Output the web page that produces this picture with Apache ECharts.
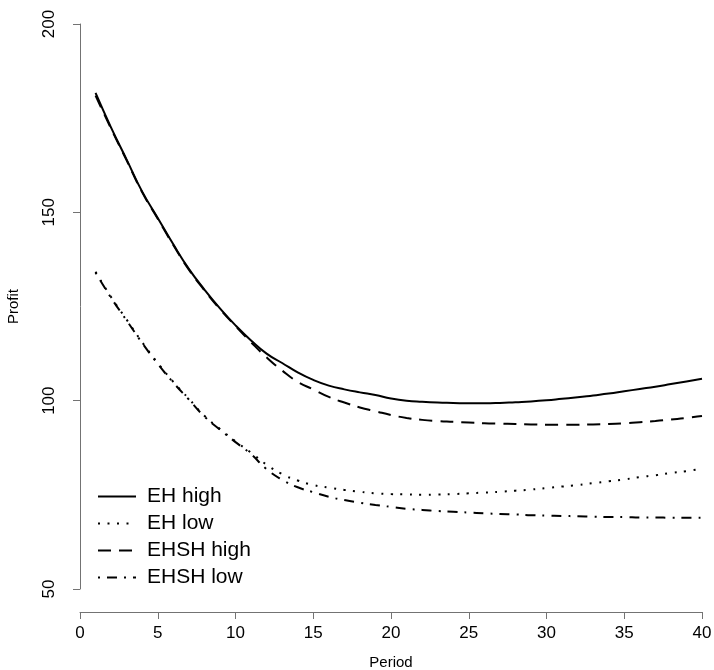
<!DOCTYPE html>
<html>
<head>
<meta charset="utf-8">
<script src="https://cdn.jsdelivr.net/npm/echarts@6/dist/echarts.min.js"></script>
<style>
	html, body { margin: 0; padding: 0; background: #fff; }
	#chart { width: 714px; height: 670px; }
</style>
</head>
<body>
<div id="chart"></div>
<script>
//////////// 데이터 ////////////
var periods = [];
for (var p = 1; p <= 40; p++) periods.push(p);

var xTicks = [0, 5, 10, 15, 20, 25, 30, 35, 40];
var yTicks = [50, 100, 150, 200];

var ehHigh = [181.7, 172.5, 164, 155.5, 148.5, 141.5, 135, 129.5, 124.5, 120,
	116, 112.5, 110, 107.5, 105.5, 104, 103, 102.2, 101.5, 100.6,
	100, 99.7, 99.5, 99.4, 99.3, 99.3, 99.4, 99.6, 99.8, 100.1,
	100.5, 100.9, 101.4, 101.9, 102.5, 103.1, 103.7, 104.4, 105.1, 105.8];

var ehLow = [134.2, 127.5, 121.5, 115.5, 110, 105, 100.5, 96, 92.5, 89.2,
	86.2, 83, 80.5, 78.8, 77.6, 76.9, 76.3, 75.8, 75.4, 75.2,
	75.1, 75.0, 75.1, 75.2, 75.4, 75.6, 75.8, 76.1, 76.4, 76.8,
	77.2, 77.6, 78.1, 78.6, 79.1, 79.7, 80.2, 80.8, 81.3, 81.9];

var ehshHigh = [181, 172.2, 163.8, 155.3, 148.3, 141.3, 134.8, 129.3, 124.3, 119.8,
	115.5, 111.5, 108, 105, 103, 101, 99.5, 98.2, 97.2, 96.2,
	95.4, 94.9, 94.6, 94.4, 94.2, 94.0, 93.9, 93.8, 93.7, 93.6,
	93.6, 93.6, 93.7, 93.8, 94.0, 94.3, 94.6, 95.0, 95.4, 95.9];

var ehshLow = [134, 127.3, 121.3, 115.3, 109.8, 104.8, 100.3, 95.8, 92.3, 89,
	85.8, 81.8, 79, 77, 75.7, 74.5, 73.6, 72.9, 72.3, 71.8,
	71.3, 71.0, 70.7, 70.5, 70.3, 70.1, 69.9, 69.8, 69.6, 69.5,
	69.4, 69.3, 69.2, 69.1, 69.1, 69.0, 69.0, 68.9, 68.9, 68.9];

var seriesNames = ['EH high', 'EH low', 'EHSH high', 'EHSH low'];

//////////// 차트 ////////////
function pairs(ys) {
	return periods.map(function(x, i) { return [x, ys[i]]; });
}

function makeLine(name, ys, dash) {
	return {
		name: name,
		type: 'line',
		data: pairs(ys),
		symbol: 'none',
		smooth: true,
		lineStyle: { color: '#000', width: 2, type: dash, cap: 'butt' },
		itemStyle: { color: '#000' }
	};
}

var font = "'Liberation Sans', Arial, Helvetica, sans-serif";
var axisGray = '#737373';

var chart = echarts.init(document.getElementById('chart'));
var option = {
	animation: false,
	backgroundColor: '#fff',
	textStyle: { fontFamily: font },
	grid: { left: 80, right: 12, top: 24, bottom: 81, containLabel: false, outerBoundsMode: 'none' },
	legend: {
		data: seriesNames,
		orient: 'vertical',
		left: 92,
		top: 481,
		itemWidth: 38,
		itemHeight: 14,
		itemGap: 6,
		itemStyle: { opacity: 0 },
		textStyle: { fontSize: 21, color: '#000', fontFamily: font, padding: [0, 0, 0, 6] }
	},
	xAxis: {
		type: 'value',
		min: 0, max: 40, interval: 5,
		offset: 23,
		name: 'Period',
		nameLocation: 'middle',
		nameGap: 43,
		nameTextStyle: { fontSize: 15, color: '#000' },
		axisLine: { show: true, lineStyle: { color: axisGray, width: 1 } },
		axisTick: { show: true, length: 7, lineStyle: { color: axisGray } },
		axisLabel: {
			fontSize: 17, color: '#000', margin: 13,
			formatter: function(v) { return xTicks.indexOf(v) >= 0 ? String(v) : ''; }
		},
		splitLine: { show: false }
	},
	yAxis: {
		type: 'value',
		min: 50, max: 200, interval: 50,
		offset: 9,
		name: 'Profit',
		nameLocation: 'middle',
		nameGap: 50,
		nameRotate: 90,
		nameTextStyle: { fontSize: 15, color: '#000' },
		axisLine: { show: true, lineStyle: { color: axisGray, width: 1 } },
		axisTick: { show: true, length: 7, lineStyle: { color: axisGray } },
		axisLabel: {
			fontSize: 17, color: '#000', margin: 13, rotate: 90,
			formatter: function(v) { return yTicks.indexOf(v) >= 0 ? String(v) : ''; }
		},
		splitLine: { show: false }
	},
	series: [
		makeLine('EH high', ehHigh, 'solid'),
		makeLine('EH low', ehLow, [2, 7.5]),
		makeLine('EHSH high', ehshHigh, [13, 8]),
		makeLine('EHSH low', ehshLow, [2, 7, 10, 7])
	]
};

chart.setOption(option);
</script>
</body>
</html>
